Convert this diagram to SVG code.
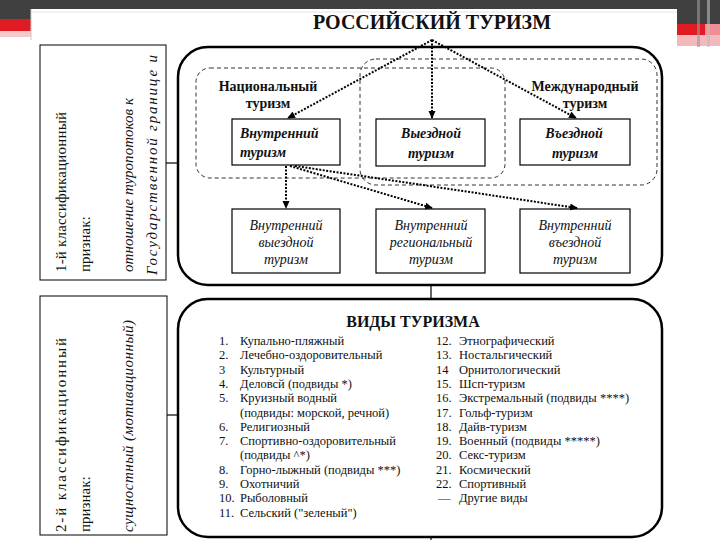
<svg xmlns="http://www.w3.org/2000/svg" width="720" height="540" viewBox="0 0 720 540" font-family="'Liberation Serif', 'DejaVu Serif', 'Times New Roman', serif">
<style>
text{font-family:"Liberation Serif","DejaVu Serif","Times New Roman",serif;fill:#111}
.frame{fill:none;stroke:#000;stroke-width:2.5}
.box{fill:#fff;stroke:#000;stroke-width:1.2}
.lbox{fill:#fff;stroke:#000;stroke-width:1}
.dash{fill:none;stroke:#333;stroke-width:1;stroke-dasharray:4 3}
.dot{fill:none;stroke:#000;stroke-width:2;stroke-dasharray:2 1.5}
.line{stroke:#000;stroke-width:1.2;fill:none}
.lst{font-size:12.5px}
.b1{font-size:14px;font-weight:bold;font-style:italic}
.b2{font-size:14px;font-style:italic}
.lbl{font-size:14px;font-weight:bold}
.rot{font-size:15px}
.it{font-style:italic}
</style>
<defs>
<marker id="ah" markerWidth="8" markerHeight="8" refX="7" refY="4" orient="auto" markerUnits="userSpaceOnUse"><path d="M0,0.5 L8,4 L0,7.5 z" fill="#000"/></marker>
</defs>
<rect width="720" height="540" fill="#fff"/>
<g id="slide-decor">
<rect x="0" y="0" width="720" height="9" fill="#404040"/>
<rect x="0" y="0" width="31" height="19" fill="#404040"/>
<rect x="0" y="19" width="31" height="12" fill="#e01b24"/>
<rect x="0" y="31" width="31" height="6" fill="#f6c9cb"/>
<rect x="677" y="0" width="43" height="24" fill="#404040"/>
<rect x="677" y="24" width="28" height="11" fill="#e01b24"/>
<rect x="705" y="24" width="15" height="11" fill="#f08f93"/>
<rect x="677" y="35" width="43" height="11" fill="#f3b9bc"/>
<rect x="697" y="0" width="3" height="47" fill="#9a9a9a" opacity="0.6"/>
<rect x="707" y="0" width="3" height="47" fill="#bdbdbd" opacity="0.6"/>
<line x1="31" y1="9" x2="31" y2="40" stroke="#c8c8c8" stroke-width="1"/>
<line x1="31" y1="12" x2="677" y2="12" stroke="#e6e6e6" stroke-width="1"/>
</g>
<g id="criterion-1">
<rect class="lbox" x="40" y="45" width="126" height="235"/>
<text class="rot" transform="translate(66,272) rotate(-90)" textLength="160" lengthAdjust="spacing">1-й классификационный</text>
<text class="rot" transform="translate(90,272) rotate(-90)">признак:</text>
<text class="rot it" transform="translate(133,272) rotate(-90)" textLength="174" lengthAdjust="spacing">отношение туропотоков к</text>
<text class="rot it" transform="translate(157,275) rotate(-90)" textLength="220" lengthAdjust="spacing">Государственной границе и</text>
</g>
<g id="criterion-2">
<rect class="lbox" x="40" y="296" width="127" height="239"/>
<text class="rot" transform="translate(66,532) rotate(-90)" textLength="194" lengthAdjust="spacing">2-й классификационный</text>
<text class="rot" transform="translate(90,532) rotate(-90)">признак:</text>
<text class="rot it" transform="translate(133,532) rotate(-90)" textLength="212" lengthAdjust="spacing">сущностный (мотивационный)</text>
</g>
<g id="title">
<text x="432" y="29" text-anchor="middle" font-size="20" font-weight="bold" textLength="238" lengthAdjust="spacingAndGlyphs">РОССИЙСКИЙ ТУРИЗМ</text>
</g>
<g id="frame-russian-tourism">
<rect class="frame" x="178" y="47" width="484" height="238" rx="30" ry="30"/>
</g>
<g id="group-national">
<rect class="dash" x="196" y="68" width="309" height="110" rx="14" ry="14"/>
<text class="lbl" x="268" y="91" text-anchor="middle">Национальный</text>
<text class="lbl" x="268" y="108" text-anchor="middle">туризм</text>
</g>
<g id="group-international">
<rect class="dash" x="360" y="59" width="297" height="126" rx="16" ry="16"/>
<text class="lbl" x="585" y="91" text-anchor="middle">Международный</text>
<text class="lbl" x="585" y="108" text-anchor="middle">туризм</text>
</g>
<g id="node-domestic">
<rect class="box" x="232" y="119" width="108" height="46"/>
<text class="b1" x="240" y="138">Внутренний</text>
<text class="b1" x="240" y="157">туризм</text>
</g>
<g id="node-outbound">
<rect class="box" x="376" y="119" width="109" height="47"/>
<text class="b1" x="431" y="138" text-anchor="middle">Выездной</text>
<text class="b1" x="431" y="158" text-anchor="middle">туризм</text>
</g>
<g id="node-inbound">
<rect class="box" x="520" y="119" width="110" height="46"/>
<text class="b1" x="574" y="138" text-anchor="middle">Въездной</text>
<text class="b1" x="575" y="158" text-anchor="middle">туризм</text>
</g>
<g id="node-domestic-outbound">
<rect class="box" x="232" y="209" width="108" height="64"/>
<text class="b2" x="286" y="230" text-anchor="middle">Внутренний</text>
<text class="b2" x="286" y="247" text-anchor="middle">выездной</text>
<text class="b2" x="286" y="264" text-anchor="middle">туризм</text>
</g>
<g id="node-domestic-regional">
<rect class="box" x="376" y="209" width="109" height="64"/>
<text class="b2" x="431" y="230" text-anchor="middle">Внутренний</text>
<text class="b2" x="431" y="247" text-anchor="middle">региональный</text>
<text class="b2" x="431" y="264" text-anchor="middle">туризм</text>
</g>
<g id="node-domestic-inbound">
<rect class="box" x="520" y="209" width="110" height="64"/>
<text class="b2" x="575" y="230" text-anchor="middle">Внутренний</text>
<text class="b2" x="575" y="247" text-anchor="middle">въездной</text>
<text class="b2" x="575" y="264" text-anchor="middle">туризм</text>
</g>
<g id="frame-types">
<rect class="frame" x="178" y="299" width="484" height="238" rx="30" ry="30"/>
<text x="413" y="327" text-anchor="middle" font-size="16" font-weight="bold">ВИДЫ ТУРИЗМА</text>
<g class="lst">
<text x="219" y="345">1.</text><text x="240" y="345">Купально-пляжный</text>
<text x="219" y="359">2.</text><text x="240" y="359">Лечебно-оздоровительный</text>
<text x="219" y="374">3</text><text x="240" y="374">Культурный</text>
<text x="219" y="388">4.</text><text x="240" y="388">Деловсй (подвиды *)</text>
<text x="219" y="402">5.</text><text x="240" y="402">Круизный водный</text>
<text x="240" y="417">(подвиды: морской, речной)</text>
<text x="219" y="431">6.</text><text x="240" y="431">Религиозный</text>
<text x="219" y="445">7.</text><text x="240" y="445">Спортивно-оздоровительный</text>
<text x="240" y="459">(подвиды ^*)</text>
<text x="219" y="474">8.</text><text x="240" y="474">Горно-лыжный (подвиды ***)</text>
<text x="219" y="488">9.</text><text x="240" y="488">Охотничий</text>
<text x="219" y="502">10.</text><text x="240" y="502">Рыболовный</text>
<text x="219" y="517">11.</text><text x="240" y="517">Сельский ("зеленый")</text>
<text x="436" y="345">12.</text><text x="459" y="345">Этнографический</text>
<text x="436" y="359">13.</text><text x="459" y="359">Ностальгический</text>
<text x="436" y="374">14</text><text x="459" y="374">Орнитологический</text>
<text x="436" y="388">15.</text><text x="459" y="388">Шсп-туризм</text>
<text x="436" y="402">16.</text><text x="459" y="402">Экстремальный (подвиды ****)</text>
<text x="436" y="417">17.</text><text x="459" y="417">Гольф-туризм</text>
<text x="436" y="431">18.</text><text x="459" y="431">Дайв-туризм</text>
<text x="436" y="445">19.</text><text x="459" y="445">Военный (подвиды *****)</text>
<text x="436" y="459">20.</text><text x="459" y="459">Секс-туризм</text>
<text x="436" y="474">21.</text><text x="459" y="474">Космический</text>
<text x="436" y="488">22.</text><text x="459" y="488">Спортивный</text>
<text x="438" y="502">—</text><text x="459" y="502">Другие виды</text>
</g>
</g>
<g id="connectors">
<line class="line" x1="166" y1="163" x2="178" y2="163"/>
<line class="line" x1="167" y1="415" x2="178" y2="415"/>
<line class="line" x1="431" y1="285" x2="431" y2="299"/>
<line class="line" x1="431" y1="537" x2="431" y2="540"/>
<line class="dot" x1="432" y1="40" x2="288" y2="118" marker-end="url(#ah)"/>
<line class="dot" x1="432" y1="40" x2="432" y2="118" marker-end="url(#ah)"/>
<line class="dot" x1="432" y1="40" x2="576" y2="118" marker-end="url(#ah)"/>
<line class="dot" x1="286" y1="166" x2="286" y2="208" marker-end="url(#ah)"/>
<line class="dot" x1="290" y1="166" x2="432" y2="208" marker-end="url(#ah)"/>
<line class="dot" x1="295" y1="166" x2="577" y2="208" marker-end="url(#ah)"/>
</g>
</svg>
